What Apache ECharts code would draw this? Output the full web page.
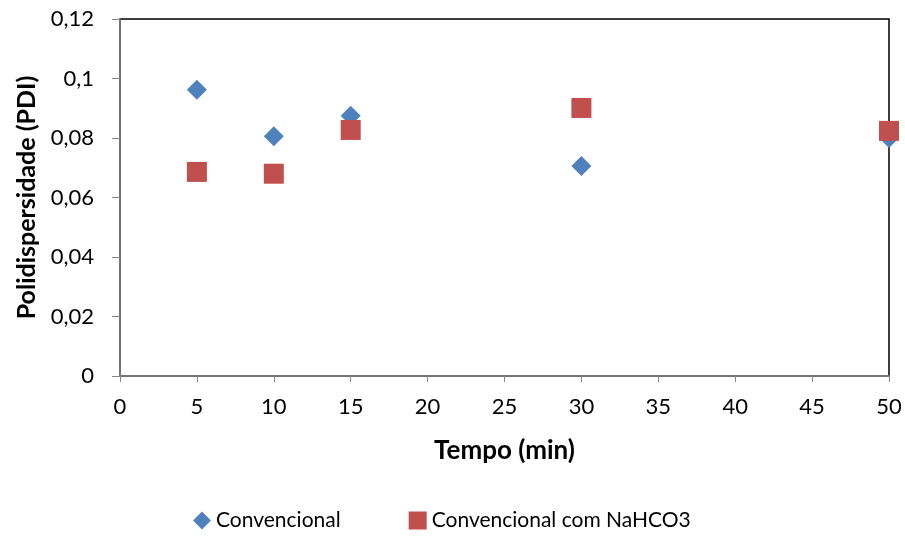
<!DOCTYPE html>
<html><head><meta charset="utf-8">
<script src="https://cdn.jsdelivr.net/npm/echarts@6/dist/echarts.min.js"></script>
<style>html,body{margin:0;padding:0;background:#fff}#c{width:905px;height:539px}</style>
</head><body><div id="c"></div>
<script>
const seriesNames = ["Convencional", "Convencional com NaHCO3"];
const tempo = [5, 10, 15, 30, 50];
const convencional = [0.0962, 0.0806, 0.0875, 0.0706, 0.0800];
const nahco3 = [0.0686, 0.0680, 0.0827, 0.0901, 0.0824];
const xTicks = { min: 0, max: 50, interval: 5 };
const yTicks = { min: 0, max: 0.12, interval: 0.02 };

const font = "Lato, 'Open Sans', sans-serif";
const chart = echarts.init(document.getElementById('c'), null, {renderer: 'canvas'});
chart.setOption({
  animation: false,
  backgroundColor: '#fff',
  grid: { left: 120, right: 16, top: 19, bottom: 163, show: true, borderColor: '#000', borderWidth: 1.5, backgroundColor: 'transparent' },
  legend: {
    bottom: 3, left: 188, itemGap: 68, itemWidth: 18, itemHeight: 18,
    textStyle: { fontFamily: font, fontSize: 21, color: '#000' },
    data: [
      { name: seriesNames[0], icon: 'diamond' },
      { name: seriesNames[1], icon: 'rect' }
    ]
  },
  xAxis: {
    type: 'value', min: xTicks.min, max: xTicks.max, interval: xTicks.interval,
    name: 'Tempo (min)', nameLocation: 'middle', nameGap: 62,
    nameTextStyle: { fontFamily: font, fontSize: 26, fontWeight: 'bold', color: '#000' },
    axisLine: { show: true, lineStyle: { color: '#868686', width: 1.5 } },
    axisTick: { show: true, length: 6, lineStyle: { color: '#868686' } },
    axisLabel: { fontFamily: font, fontSize: 22, color: '#000', margin: 20 },
    splitLine: { show: false }
  },
  yAxis: {
    type: 'value', min: yTicks.min, max: yTicks.max, interval: yTicks.interval,
    name: 'Polidispersidade (PDI)', nameLocation: 'middle', nameGap: 76,
    nameTextStyle: { fontFamily: font, fontSize: 25, fontWeight: 'bold', color: '#000' },
    axisLine: { show: true, lineStyle: { color: '#868686', width: 1.5 } },
    axisTick: { show: true, length: 8, lineStyle: { color: '#868686' } },
    axisLabel: { fontFamily: font, fontSize: 22, color: '#000', margin: 26,
      formatter: v => String(+v.toFixed(2)).replace('.', ',') },
    splitLine: { show: false }
  },
  series: [
    { name: seriesNames[0], type: 'scatter', symbol: 'diamond', symbolSize: 20,
      itemStyle: { color: '#4F81BD', opacity: 1 }, z: 2,
      data: tempo.map((t, i) => [t, convencional[i]]) },
    { name: seriesNames[1], type: 'scatter', symbol: 'rect', symbolSize: 20,
      itemStyle: { color: '#C0504D', opacity: 1 }, z: 3,
      data: tempo.map((t, i) => [t, nahco3[i]]) }
  ]
});
</script></body></html>
